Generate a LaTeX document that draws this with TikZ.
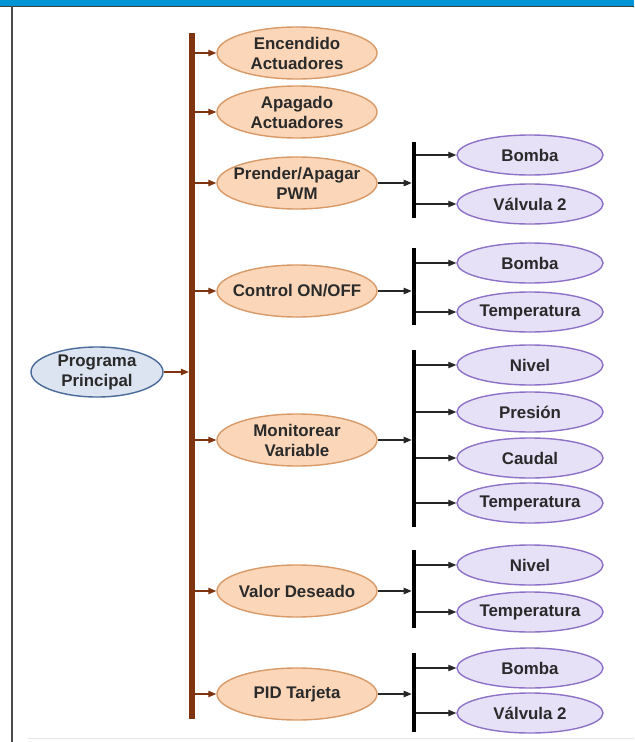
\documentclass[tikz,border=0pt]{standalone}
\usepackage{fontspec}
\setmainfont{Liberation Sans}
\definecolor{HeadBlue}{HTML}{0096D6}
\definecolor{BusBrown}{HTML}{7F3410}
\definecolor{MainFill}{HTML}{DCE4F1}
\definecolor{MainLine}{HTML}{4A6A9A}
\definecolor{SubFill}{HTML}{FBD6B8}
\definecolor{SubLine}{HTML}{D89A68}
\definecolor{VarFill}{HTML}{E7E1F8}
\definecolor{VarLine}{HTML}{8E72C8}
\definecolor{TxtGray}{HTML}{2A2A2A}
\usetikzlibrary{arrows.meta, shapes.geometric}

\begin{document}
\begin{tikzpicture}[x=0.025cm, y=-0.025cm, >={Triangle[length=2mm, width=1.6mm]},
  box/.style={ellipse, line width=1pt, inner sep=-1cm, align=center, text=TxtGray,
    font=\fontsize{12}{14.2}\selectfont\bfseries},
  mainbox/.style={box, draw=MainLine, fill=MainFill, minimum width=3.3cm, minimum height=1.25cm},
  subbox/.style={box, draw=SubLine, fill=SubFill, minimum width=4cm, minimum height=1.3cm},
  varbox/.style={box, draw=VarLine, fill=VarFill, minimum width=3.65cm, minimum height=1cm},
  splitbar/.style={fill=black, inner sep=0pt, minimum width=0.1cm},
  brownarr/.style={->, BusBrown, line width=0.8pt},
  blackarr/.style={->, black!85, line width=0.8pt}]
  % Header strip and frame
  \useasboundingbox (0,0) rectangle (634,742);
  \fill[HeadBlue] (0,0) rectangle (634,6);
  \draw[black!75, line width=0.7pt] (0,6.5) -- (634,6.5);
  \draw[black!70, line width=0.9pt] (12,6.5) -- (12,742);
  \draw[black!10, line width=0.7pt] (28,738) -- (634,738);

  % Main program and brown bus
  \node[mainbox] (main) at (97,372) {Programa\\Principal};
  \node[fill=BusBrown, inner sep=0pt, minimum width=0.14cm, minimum height=17.15cm] (bus) at (192,376) {};
  \draw[brownarr] (main) -- (bus.west |- main);

  % Subroutines
  \node[subbox] (enc) at (297,53) {Encendido\\Actuadores};
  \node[subbox] (apa) at (297,112) {Apagado\\Actuadores};
  \node[subbox] (pwm) at (297,183) {Prender/Apagar\\PWM};
  \node[subbox] (onoff) at (297,291) {Control ON/OFF};
  \node[subbox] (mon) at (297,440) {Monitorear\\Variable};
  \node[subbox] (ref) at (297,591) {Valor Deseado};
  \node[subbox] (pid) at (297,694) {PID Tarjeta};
  \foreach \s in {enc, apa, pwm, onoff, mon, ref, pid}
    \draw[brownarr] (bus.east |- \s) -- (\s);

  % Split bars
  \foreach \b/\y/\h in {bpwm/180/1.9, bonoff/286.5/1.925, bmon/438.5/4.425, bref/589/1.95, bpid/692.5/1.975}
    \node[splitbar, minimum height=\h cm] (\b) at (414,\y) {};

  % Variables
  \node[varbox] (pwm1) at (530,155) {Bomba};
  \node[varbox] (pwm2) at (530,204) {Válvula 2};
  \node[varbox] (onoff1) at (530,263) {Bomba};
  \node[varbox] (onoff2) at (530,312) {Temperatura};
  \node[varbox] (mon1) at (530,365) {Nivel};
  \node[varbox] (mon2) at (530,412) {Presión};
  \node[varbox] (mon3) at (530,458) {Caudal};
  \node[varbox] (mon4) at (530,503) {Temperatura};
  \node[varbox] (ref1) at (530,565) {Nivel};
  \node[varbox] (ref2) at (530,612) {Temperatura};
  \node[varbox] (pid1) at (530,668) {Bomba};
  \node[varbox] (pid2) at (530,713) {Válvula 2};

  \foreach \s/\b in {pwm/bpwm, onoff/bonoff, mon/bmon, ref/bref, pid/bpid}
    \draw[blackarr] (\s) -- (\b.west |- \s);
  \foreach \v/\b in {pwm1/bpwm, pwm2/bpwm, onoff1/bonoff, onoff2/bonoff,
      mon1/bmon, mon2/bmon, mon3/bmon, mon4/bmon, ref1/bref, ref2/bref, pid1/bpid, pid2/bpid}
    \draw[blackarr] (\b.east |- \v) -- (\v);
\end{tikzpicture}
\end{document}
